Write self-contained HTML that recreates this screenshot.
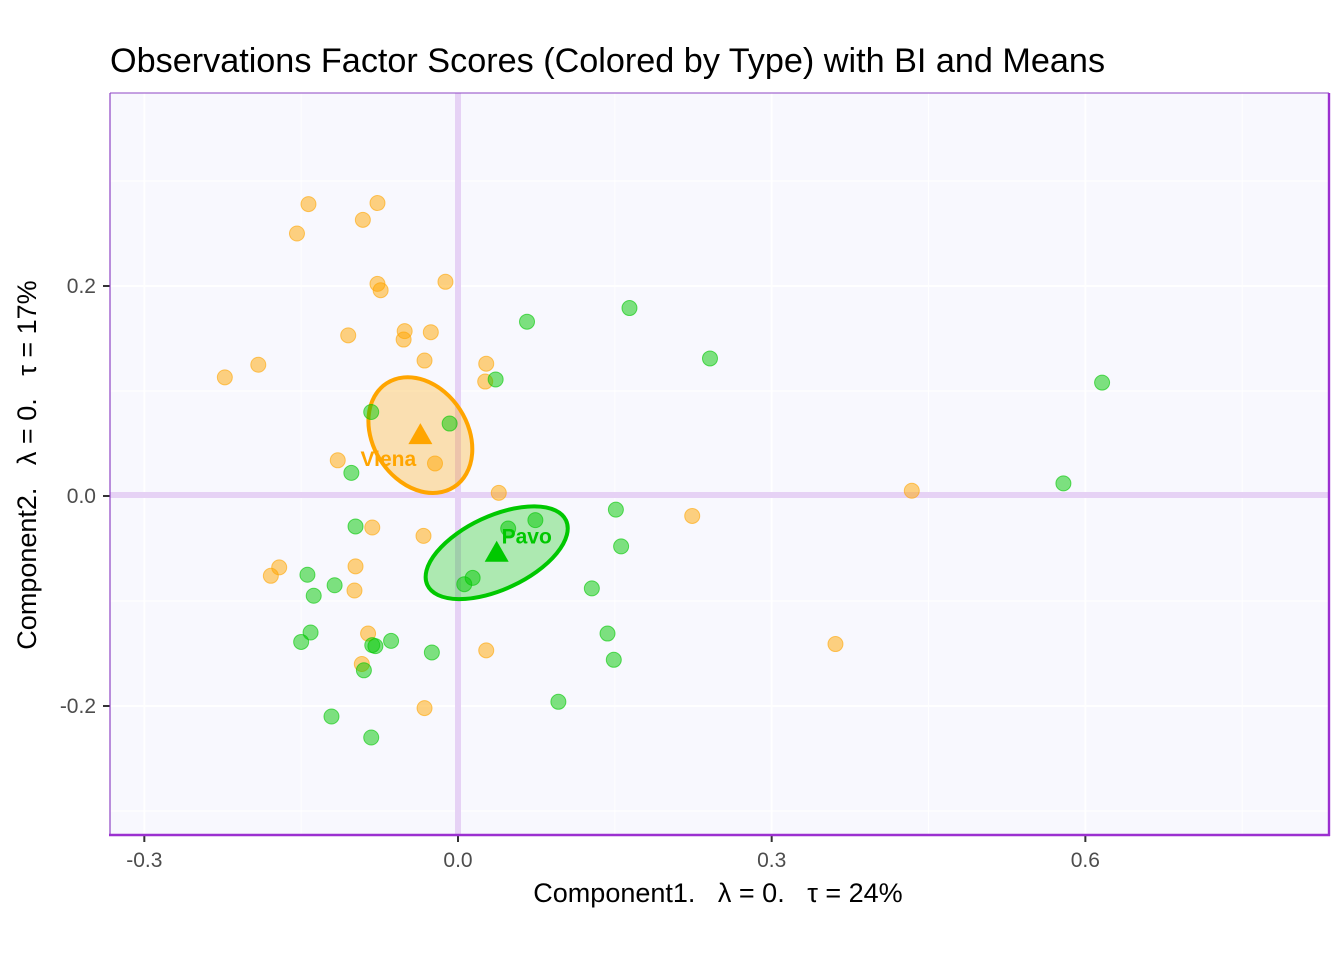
<!DOCTYPE html>
<html><head><meta charset="utf-8"><style>
body{margin:0;background:#fff;}
svg{display:block;font-family:"Liberation Sans",Arial,sans-serif;}
.pre{white-space:pre;}
</style></head><body>
<svg id="chart" width="1344" height="960" viewBox="0 0 1344 960" xmlns="http://www.w3.org/2000/svg">
<text x="110" y="72" font-size="34.2" fill="#000">Observations Factor Scores (Colored by Type) with BI and Means</text>
<rect x="110" y="93" width="1219" height="742" fill="#f8f8fe"/>
<g id="grid"></g>
<g id="zero"></g>
<g id="ells"></g>
<g id="pts"></g>
<g id="means"></g>
<g id="axes"></g>
<line x1="110" y1="93" x2="1329" y2="93" stroke="#8e44c4" stroke-width="1"/>
<line x1="110" y1="93" x2="110" y2="835" stroke="#8e44c4" stroke-width="1.2"/>
<line x1="1329" y1="93" x2="1329" y2="836" stroke="#9b30d0" stroke-width="2.4"/>
<line x1="109" y1="835" x2="1330" y2="835" stroke="#9b30d0" stroke-width="2.4"/>
<text class="pre" x="718" y="902" font-size="27" text-anchor="middle">Component1.   λ = 0.   τ = 24%</text>
<text class="pre" transform="translate(36,465) rotate(-90)" font-size="27" text-anchor="middle">Component2.   λ = 0.   τ = 17%</text>
<script>
const xTicks=[-0.3,0,0.3,0.6];
const xTickLabels=["-0.3","0.0","0.3","0.6"];
const xMinor=[-0.15,0.15,0.45,0.75];
const yTicks=[-0.2,0,0.2];
const yTickLabels=["-0.2","0.0","0.2"];
const yMinor=[-0.3,-0.1,0.1,0.3];
const vienaX=[-0.143,-0.077,-0.091,-0.154,-0.077,-0.074,-0.012,-0.105,-0.051,-0.026,-0.052,-0.032,-0.191,-0.223,0.027,0.026,-0.115,-0.022,0.039,-0.082,-0.033,0.224,0.434,-0.171,-0.179,-0.098,-0.099,-0.086,-0.092,0.027,-0.032,0.361];
const vienaY=[0.278,0.279,0.263,0.250,0.202,0.196,0.204,0.153,0.157,0.156,0.149,0.129,0.125,0.113,0.126,0.109,0.034,0.031,0.003,-0.030,-0.038,-0.019,0.005,-0.068,-0.076,-0.067,-0.090,-0.131,-0.160,-0.147,-0.202,-0.141];
const pavoX=[0.066,0.164,0.241,0.616,0.036,-0.083,-0.008,-0.102,0.579,0.151,0.074,0.048,-0.098,0.156,0.014,0.006,-0.144,-0.118,-0.138,0.128,-0.141,-0.150,-0.082,-0.079,-0.064,-0.090,-0.025,0.143,0.149,0.096,-0.121,-0.083];
const pavoY=[0.166,0.179,0.131,0.108,0.111,0.080,0.069,0.022,0.012,-0.013,-0.023,-0.031,-0.029,-0.048,-0.078,-0.084,-0.075,-0.085,-0.095,-0.088,-0.130,-0.139,-0.142,-0.143,-0.138,-0.166,-0.149,-0.131,-0.156,-0.196,-0.210,-0.230];
const groups=["Viena","Pavo"];
const meanX=[-0.036,0.037];
const meanY=[0.058,-0.054];
const ellRx=[0.059,0.073];
const ellRy=[0.045,0.035];
const ellAngle=[57,-25];
const NS="http://www.w3.org/2000/svg";
const X=v=>458+v*1045.6, Y=v=>496-v*1050;
const S=(v)=>v*1048;
function mk(tag,attrs,parent){const e=document.createElementNS(NS,tag);for(const k in attrs)e.setAttribute(k,attrs[k]);document.getElementById(parent).appendChild(e);return e;}
xMinor.forEach(v=>{const e=mk('line',{x1:X(v),x2:X(v),y1:93,y2:835,stroke:'#fff','stroke-width':1},'grid');});
yMinor.forEach(v=>{const e=mk('line',{x1:110,x2:1329,y1:Y(v),y2:Y(v),stroke:'#fff','stroke-width':1},'grid');});
xTicks.forEach((v,i)=>{const e=mk('line',{x1:X(v),x2:X(v),y1:93,y2:835,stroke:'#fff','stroke-width':2},'grid');
 const t=mk('line',{x1:X(v),x2:X(v),y1:835,y2:842,stroke:'#333','stroke-width':2},'axes');
 const l=mk('text',{x:X(v),y:867,'font-size':21,'text-anchor':'middle',fill:'#4d4d4d'},'axes');l.textContent=xTickLabels[i];});
yTicks.forEach((v,i)=>{const e=mk('line',{x1:110,x2:1329,y1:Y(v),y2:Y(v),stroke:'#fff','stroke-width':2},'grid');
 const t=mk('line',{x1:103,x2:110,y1:Y(v),y2:Y(v),stroke:'#333','stroke-width':2},'axes');
 const l=mk('text',{x:96,y:Y(v)+7,'font-size':21,'text-anchor':'end',fill:'#4d4d4d'},'axes');l.textContent=yTickLabels[i];});
let z=mk('line',{x1:X(0),x2:X(0),y1:93,y2:835,stroke:'#e6d2f5','stroke-width':6},'zero');
z=mk('line',{x1:110,x2:1329,y1:Y(0)-1,y2:Y(0)-1,stroke:'#e6d2f5','stroke-width':6},'zero');
const cols=['#ffa500','#00c800'], fills=['rgba(255,165,0,0.3)','rgba(0,200,0,0.3)'];
groups.forEach((g,i)=>{const e=mk('ellipse',{cx:X(meanX[i]),cy:Y(meanY[i]),rx:S(ellRx[i]),ry:S(ellRy[i]),fill:fills[i],stroke:cols[i],'stroke-width':4,transform:`rotate(${ellAngle[i]} ${X(meanX[i])} ${Y(meanY[i])})`},'ells');});
function pts(xs,ys,fill,stroke,name){xs.forEach((v,i)=>{const c=mk('circle',{cx:X(v),cy:Y(ys[i]),r:7.5,fill:fill,stroke:stroke,'stroke-width':1},'pts');});}
pts(vienaX,vienaY,'rgba(255,165,0,0.5)','rgba(255,165,0,0.6)','viena-point');
pts(pavoX,pavoY,'rgba(0,200,0,0.5)','rgba(0,200,0,0.6)','pavo-point');
const lblDx=[-32,30],lblDy=[24,-16];
groups.forEach((g,i)=>{const cx=X(meanX[i]),cy=Y(meanY[i]);
 const t=mk('polygon',{points:`${cx},${cy-12} ${cx-12},${cy+9} ${cx+12},${cy+9}`,fill:cols[i]},'means');
 const l=mk('text',{x:cx+lblDx[i],y:cy+lblDy[i]+7,'font-size':21,'font-weight':'bold','text-anchor':'middle',fill:cols[i]},'means');l.textContent=g;});
</script>
</svg>
</body></html>
